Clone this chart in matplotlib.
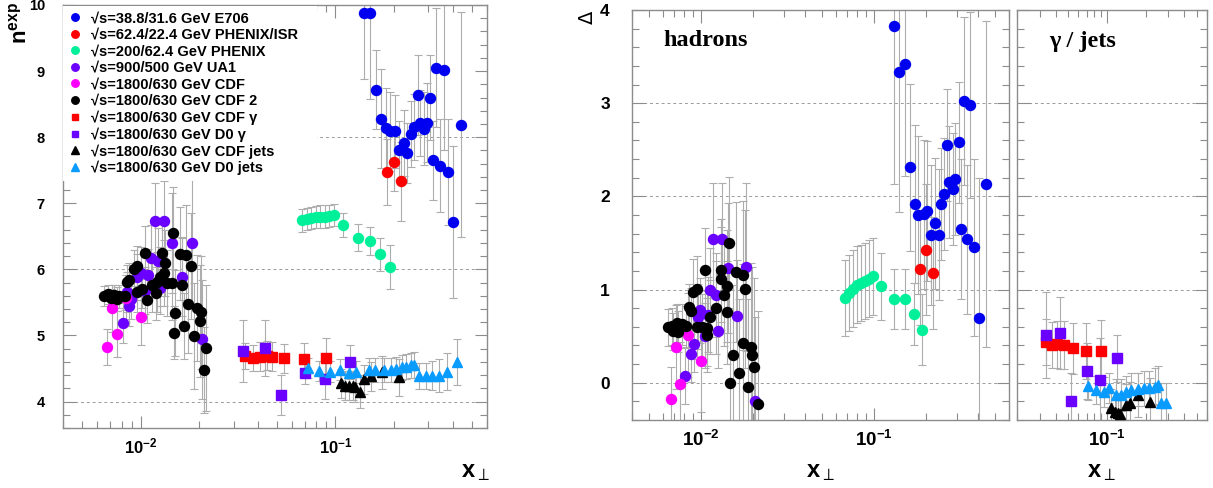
import matplotlib
matplotlib.use("Agg")
import matplotlib.pyplot as plt
from matplotlib.ticker import FixedLocator, LogLocator, MultipleLocator, NullFormatter, FixedFormatter

plt.rcParams['font.family'] = ['Liberation Sans', 'DejaVu Sans']
plt.rcParams['mathtext.fontset'] = 'custom'
plt.rcParams['mathtext.rm'] = 'Liberation Sans'
plt.rcParams['mathtext.bf'] = 'Liberation Sans:bold'
plt.rcParams['mathtext.it'] = 'Liberation Sans:italic'

# ---------------- colours / labels ----------------
series_labels = ["\u221as=38.8/31.6 GeV E706", "\u221as=62.4/22.4 GeV PHENIX/ISR",
                 "\u221as=200/62.4 GeV PHENIX", "\u221as=900/500 GeV UA1",
                 "\u221as=1800/630 GeV CDF", "\u221as=1800/630 GeV CDF 2",
                 "\u221as=1800/630 GeV CDF \u03b3", "\u221as=1800/630 GeV D0 \u03b3",
                 "\u221as=1800/630 GeV CDF jets", "\u221as=1800/630 GeV D0 jets"]
series_colors = ['#0000f0', '#ff0000', '#00f09a', '#6a00ff', '#ff00ff', '#000000',
                 '#ff0000', '#6a00ff', '#000000', '#0a9bff']
series_markers = ['o', 'o', 'o', 'o', 'o', 'o', 's', 's', '^', '^']

# ---------------- left panel: n_exp ----------------
e706_x = [0.1396, 0.151, 0.162, 0.171, 0.182, 0.191, 0.203, 0.212, 0.224, 0.233, 0.243, 0.254,
          0.264, 0.271, 0.284, 0.295, 0.307, 0.317, 0.330, 0.345, 0.359, 0.377, 0.402, 0.443]
e706_n = [9.88, 9.88, 8.72, 8.28, 8.14, 8.09, 8.09, 7.80, 7.91, 7.76, 8.05, 8.15,
          8.64, 8.21, 8.13, 8.22, 8.60, 7.65, 9.05, 7.57, 9.01, 7.47, 6.71, 8.19]
e706_ne = [1.0, 1.3, 0.6, 0.75, 0.6, 0.6, 0.55, 0.45, 0.5, 0.45, 0.5, 0.5,
           0.6, 0.5, 0.55, 0.6, 0.65, 0.6, 0.9, 0.7, 1.2, 0.8, 1.15, 1.7]

isr_x = [0.184, 0.201, 0.217]
isr_n = [7.47, 7.63, 7.33]
isr_ne = [0.5, 0.45, 0.6]

phenix_x = [0.0675, 0.0712, 0.0751, 0.0792, 0.0835, 0.0881, 0.0929, 0.098, 0.109, 0.130, 0.150, 0.170, 0.190]
phenix_n = [6.74, 6.76, 6.78, 6.79, 6.80, 6.80, 6.81, 6.82, 6.67, 6.48, 6.43, 6.23, 6.04]
phenix_ne = [0.17, 0.17, 0.17, 0.17, 0.17, 0.17, 0.17, 0.17, 0.18, 0.2, 0.21, 0.25, 0.33]

ua1_x = [0.01184, 0.01316, 0.01455, 0.01828, 0.01125, 0.01227, 0.00962, 0.01008, 0.01090,
         0.01637, 0.01266, 0.01048, 0.00855, 0.00889, 0.00871, 0.00809, 0.02056]
ua1_n = [6.73, 6.73, 6.40, 6.40, 6.17, 6.13, 5.88, 5.94, 5.91, 5.89, 5.72, 5.68, 5.66, 5.55,
         5.45, 5.19, 4.94]
ua1_ne = [0.58, 0.6, 0.75, 0.95, 0.5, 0.5, 0.35, 0.4, 0.4, 0.6, 0.4, 0.35, 0.3, 0.3, 0.3, 0.3, 0.9]

cdf_x = [0.00669, 0.0076, 0.0071, 0.00838, 0.0100]
cdf_n = [4.83, 5.02, 5.41, 5.56, 5.28]
cdf_ne = [0.27, 0.35, 0.35, 0.35, 0.42]

cdf2_x = [0.01466, 0.01052, 0.01343, 0.01283, 0.01585, 0.01715, 0.01805, 0.00954, 0.00924,
          0.00871, 0.00848, 0.01318, 0.01256, 0.01371, 0.01455, 0.01218, 0.01148, 0.01194,
          0.01020, 0.00962, 0.01082, 0.00648, 0.00683, 0.00730, 0.00774, 0.00831, 0.00702,
          0.00760, 0.0151, 0.01637, 0.01757, 0.01954, 0.02032, 0.02015, 0.01483, 0.01668,
          0.01876, 0.02173, 0.02129]
cdf2_n = [6.55, 6.25, 6.09, 6.25, 6.24, 6.22, 6.05, 6.05, 6.00, 5.84, 5.81, 5.94, 5.89, 5.80,
          5.79, 5.81, 5.76, 5.64, 5.71, 5.66, 5.54, 5.60, 5.62, 5.61, 5.59, 5.59, 5.56, 5.55,
          5.34, 5.77, 5.48, 5.42, 5.35, 5.22, 5.04, 5.14, 4.99, 4.81, 4.48]
cdf2_ne = [0.7, 0.4, 0.5, 0.5, 0.7, 0.75, 0.8, 0.3, 0.3, 0.25, 0.25, 0.5, 0.45, 0.5, 0.55,
           0.45, 0.4, 0.4, 0.3, 0.3, 0.35, 0.15, 0.15, 0.15, 0.18, 0.2, 0.15, 0.18,
           0.65, 0.7, 0.75, 0.8, 0.85, 0.85, 0.4, 0.5, 0.8, 0.95, 0.65]

cdfg_x = [0.0345, 0.0378, 0.0412, 0.0446, 0.0473, 0.0547, 0.0693, 0.0899]
cdfg_n = [4.69, 4.66, 4.68, 4.69, 4.68, 4.655, 4.645, 4.665]
cdfg_ne = [0.2, 0.2, 0.22, 0.22, 0.22, 0.22, 0.24, 0.3]

d0g_x = [0.0337, 0.0433, 0.0527, 0.0702, 0.0889, 0.1194]
d0g_n = [4.77, 4.81, 4.10, 4.43, 4.34, 4.60]
d0g_ne = [0.47, 0.42, 0.3, 0.17, 0.3, 0.26]

cdfj_x = [0.107, 0.1116, 0.117, 0.1227, 0.1267, 0.1333, 0.141, 0.153, 0.174, 0.213]
cdfj_n = [4.28, 4.24, 4.24, 4.24, 4.22, 4.15, 4.34, 4.38, 4.44, 4.37]
cdfj_ne = [0.22, 0.22, 0.22, 0.22, 0.22, 0.25, 0.22, 0.22, 0.25, 0.28]

d0j_x = [0.0721, 0.0828, 0.0942, 0.105, 0.117, 0.128, 0.148, 0.160, 0.177, 0.193, 0.2056,
         0.220, 0.231, 0.244, 0.252, 0.269, 0.292, 0.315, 0.341, 0.374, 0.421]
d0j_n = [4.505, 4.46, 4.45, 4.48, 4.43, 4.45, 4.48, 4.48, 4.48, 4.48, 4.49, 4.52, 4.53,
         4.55, 4.55, 4.39, 4.39, 4.39, 4.39, 4.45, 4.60]
d0j_ne = [0.15, 0.15, 0.16, 0.16, 0.17, 0.17, 0.18, 0.18, 0.18, 0.18, 0.19, 0.19, 0.19,
          0.19, 0.2, 0.2, 0.2, 0.22, 0.25, 0.28, 0.35]

# ---------------- right panel: Delta, hadrons ----------------
e706_d_x = [0.1294, 0.1396, 0.151, 0.160, 0.171, 0.180, 0.1927, 0.2017, 0.2128, 0.2233, 0.2355,
            0.2439, 0.254, 0.263, 0.272, 0.285, 0.294, 0.307, 0.318, 0.331, 0.3433, 0.359,
            0.375, 0.401, 0.442]
e706_d = [3.83, 3.337, 3.416, 2.31, 1.916, 1.803, 1.81, 1.84, 1.589, 1.71, 1.589, 1.916,
          2.028, 2.55, 2.15, 2.077, 2.188, 2.58, 1.649, 3.027, 1.539, 2.98, 1.453, 0.696, 2.135]
e706_de = [1.7, 1.5, 1.2, 0.9, 0.85, 0.85, 0.8, 0.75, 0.75, 0.7, 0.7, 0.6, 0.6, 0.6, 0.6,
           0.6, 0.6, 0.65, 0.75, 0.9, 0.8, 1.0, 0.95, 1.5, 1.75]

isr_d_x = [0.200, 0.183, 0.2174]
isr_d = [1.428, 1.217, 1.178]
isr_de = [0.7, 0.6, 0.6]

phenix_d_x = [0.0675, 0.0712, 0.0751, 0.0792, 0.0835, 0.0881, 0.0929, 0.098, 0.109, 0.130, 0.150, 0.170, 0.190]
phenix_d = [0.91, 0.964, 1.01, 1.053, 1.071, 1.092, 1.118, 1.142, 1.035, 0.899, 0.899, 0.739, 0.567]
phenix_de = [0.41, 0.41, 0.41, 0.41, 0.41, 0.41, 0.41, 0.41, 0.36, 0.32, 0.32, 0.33, 0.38]

ua1_d_x = [0.01170, 0.01318, 0.01439, 0.01820, 0.01127, 0.01222, 0.00986, 0.01101, 0.00957,
           0.01622, 0.01259, 0.01055, 0.00914, 0.00875, 0.00809, 0.02051]
ua1_d = [1.546, 1.546, 1.231, 1.242, 1.0, 0.946, 0.778, 0.732, 0.707, 0.717, 0.553, 0.503,
         0.411, 0.304, 0.072, -0.196]
ua1_de = [0.6, 0.6, 0.7, 0.9, 0.45, 0.45, 0.35, 0.4, 0.35, 0.6, 0.4, 0.35, 0.3, 0.3, 0.3, 0.9]

cdf_d_x = [0.00669, 0.00757, 0.00715, 0.00838, 0.0100]
cdf_d = [-0.178, -0.017, 0.385, 0.51, 0.232]
cdf_de = [0.35, 0.45, 0.45, 0.45, 0.55]

cdf2_d_x = [0.01452, 0.01055, 0.01300, 0.01592, 0.01741, 0.01794, 0.01300, 0.01409, 0.00944,
            0.00902, 0.01364, 0.01216, 0.01409, 0.00855, 0.00875, 0.01127, 0.00647, 0.00685,
            0.00723, 0.00773, 0.00818, 0.00692, 0.00740, 0.00944, 0.01009, 0.01079, 0.01079,
            0.01755, 0.01936, 0.01981, 0.02024, 0.01538, 0.01663, 0.01472, 0.01875, 0.02143]
cdf2_d = [1.503, 1.207, 1.207, 1.188, 1.153, 1.003, 1.118, 1.035, 1.01, 0.974, 0.939, 0.803,
          0.754, 0.814, 0.77, 0.707, 0.593, 0.607, 0.642, 0.628, 0.607, 0.553, 0.546, 0.60,
          0.60, 0.582, 0.51, 0.428, 0.385, 0.297, 0.171, 0.297, 0.10, 0.0, -0.05, -0.228]
cdf2_de = [0.7, 0.45, 0.55, 0.75, 0.8, 0.85, 0.55, 0.6, 0.35, 0.35, 0.55, 0.5, 0.55, 0.25,
           0.25, 0.4, 0.2, 0.2, 0.2, 0.22, 0.22, 0.2, 0.22, 0.35, 0.35, 0.4, 0.4,
           0.85, 0.9, 0.95, 0.95, 0.75, 0.8, 0.75, 0.95, 1.0]

# ---------------- right panel: Delta, gamma / jets ----------------
cdfg_d_x = [0.0335, 0.0371, 0.0408, 0.046, 0.0541, 0.0688, 0.090]
cdfg_d = [0.439, 0.404, 0.411, 0.404, 0.368, 0.34, 0.34]
cdfg_de = [0.25, 0.25, 0.25, 0.26, 0.27, 0.3, 0.33]

d0g_d_x = [0.0335, 0.0431, 0.0525, 0.070, 0.089, 0.119]
d0g_d = [0.51, 0.535, -0.193, 0.128, 0.029, 0.261]
d0g_de = [0.46, 0.39, 0.3, 0.3, 0.45, 0.25]

cdfj_d_x = [0.1079, 0.1146, 0.1214, 0.1274, 0.1395, 0.150, 0.174, 0.215]
cdfj_d = [-0.268, -0.31, -0.328, -0.335, -0.239, -0.214, -0.132, -0.21]
cdfj_de = [0.2, 0.2, 0.2, 0.2, 0.22, 0.22, 0.24, 0.26]

d0j_d_x = [0.0708, 0.0824, 0.0944, 0.1046, 0.118, 0.129, 0.141, 0.1546, 0.174, 0.193, 0.212,
           0.235, 0.25, 0.265, 0.29]
d0j_d = [-0.035, -0.078, -0.096, -0.053, -0.132, -0.132, -0.096, -0.078, -0.071, -0.06,
         -0.06, -0.043, -0.025, -0.22, -0.22]
d0j_de = [0.15, 0.15, 0.16, 0.16, 0.17, 0.17, 0.17, 0.18, 0.18, 0.19, 0.19, 0.2, 0.2, 0.22, 0.22]

# ---------------- figure ----------------
W, H = 1213, 488
fig = plt.figure(figsize=(W / 100, H / 100), dpi=100)


def add_axes_px(l, r, t, b):
    return fig.add_axes([l / W, 1 - b / H, (r - l) / W, (b - t) / H])


ax1 = add_axes_px(63, 487, 5, 428)
ax2 = add_axes_px(632, 1009, 10, 420)
ax3 = add_axes_px(1017, 1207, 10, 420)

ERR_C = '#adadad'
MS = {'o': 7.2, 's': 6.6, '^': 7.4}


def draw(ax, x, y, e, idx):
    ax.errorbar(x, y, yerr=e, fmt='none', ecolor=ERR_C, elinewidth=0.8, capsize=3.2,
                capthick=0.8, zorder=2)
    m = series_markers[idx]
    line, = ax.plot(x, y, linestyle='none', marker=m, ms=MS[m], color=series_colors[idx],
                    mec=series_colors[idx], zorder=3, label=series_labels[idx])
    return line


left_sets = [(e706_x, e706_n, e706_ne, 0), (isr_x, isr_n, isr_ne, 1),
             (phenix_x, phenix_n, phenix_ne, 2), (ua1_x, ua1_n, ua1_ne, 3),
             (cdf_x, cdf_n, cdf_ne, 4), (cdf2_x, cdf2_n, cdf2_ne, 5),
             (cdfg_x, cdfg_n, cdfg_ne, 6), (d0g_x, d0g_n, d0g_ne, 7),
             (cdfj_x, cdfj_n, cdfj_ne, 8), (d0j_x, d0j_n, d0j_ne, 9)]
handles = []
for x, y, e, i in left_sets:
    handles.append(draw(ax1, x, y, e, i))

had_sets = [(e706_d_x, e706_d, e706_de, 0), (isr_d_x, isr_d, isr_de, 1),
            (phenix_d_x, phenix_d, phenix_de, 2), (ua1_d_x, ua1_d, ua1_de, 3),
            (cdf_d_x, cdf_d, cdf_de, 4), (cdf2_d_x, cdf2_d, cdf2_de, 5)]
for x, y, e, i in had_sets:
    draw(ax2, x, y, e, i)

gj_sets = [(cdfg_d_x, cdfg_d, cdfg_de, 6), (d0g_d_x, d0g_d, d0g_de, 7),
           (cdfj_d_x, cdfj_d, cdfj_de, 8), (d0j_d_x, d0j_d, d0j_de, 9)]
for x, y, e, i in gj_sets:
    draw(ax3, x, y, e, i)

# ---------------- axes styling ----------------
FRAME_C = '#8c8c8c'
GRID_C = '#9a9a9a'


def style(ax, xlim, ylim, ymaj, ylabels, yfs):
    ax.set_xscale('log')
    ax.set_xlim(*xlim)
    ax.set_ylim(*ylim)
    for s in ax.spines.values():
        s.set_color(FRAME_C)
        s.set_linewidth(1.0)
    ax.xaxis.set_major_locator(FixedLocator([0.01, 0.1]))
    ax.xaxis.set_minor_locator(LogLocator(base=10, subs=[2, 3, 4, 5, 6, 7, 8, 9], numticks=20))
    ax.xaxis.set_minor_formatter(NullFormatter())
    ax.yaxis.set_major_locator(FixedLocator(ymaj))
    ax.yaxis.set_minor_locator(MultipleLocator(0.2))
    if ylabels:
        ax.yaxis.set_major_formatter(FixedFormatter([str(v) for v in ymaj]))
    else:
        ax.yaxis.set_major_formatter(NullFormatter())
    ax.tick_params(which='both', direction='in', top=True, right=True, color=FRAME_C, width=0.8)
    ax.tick_params(which='major', length=9)
    ax.tick_params(which='minor', length=5)
    ax.tick_params(axis='y', which='major', labelsize=yfs, pad=13 if yfs < 12 else 16)
    for lab in ax.get_yticklabels():
        lab.set_fontweight('bold')


style(ax1, (0.004, 0.6), (3.6, 10.0), [4, 5, 6, 7, 8, 9, 10], True, 10.5)
style(ax2, (0.004, 0.6), (-0.4, 4.0), [0, 1, 2, 3, 4], True, 12.5)
style(ax3, (0.02, 0.6), (-0.4, 4.0), [0, 1, 2, 3, 4], False, 12.5)

ax1.set_xticklabels([r'$\mathbf{10^{-2}}$', r'$\mathbf{10^{-1}}$'])
ax1.tick_params(axis='x', which='major', labelsize=12, pad=6)
ax2.set_xticklabels([r'$\mathbf{10^{-2}}$', r'$\mathbf{10^{-1}}$'])
ax2.tick_params(axis='x', which='major', labelsize=13.5, pad=7)
ax3.xaxis.set_major_locator(FixedLocator([0.1]))
ax3.set_xticklabels([r'$\mathbf{10^{-1}}$'])
ax3.tick_params(axis='x', which='major', labelsize=13.5, pad=7)

for v in [4, 6, 8]:
    ax1.axhline(v, color=GRID_C, lw=0.7, ls=(0, (3, 3)), zorder=1)
for ax in (ax2, ax3):
    for v in [0, 1, 2, 3]:
        ax.axhline(v, color=GRID_C, lw=0.7, ls=(0, (3, 3)), zorder=1)

leg = ax1.legend(handles=handles, loc='upper left', bbox_to_anchor=(0.0, 0.997, 0.6, 0.0),
                 mode='expand', frameon=True, fancybox=False, edgecolor='none',
                 facecolor='white', framealpha=1.0, borderaxespad=0.0, borderpad=0.35,
                 labelspacing=0.17, handlelength=0.9, handletextpad=0.7, markerscale=0.75,
                 prop={'weight': 'bold', 'size': 10.5})
leg.set_zorder(5)

# ---------------- text ----------------
def ftext(xp, yp, s, **kw):
    return fig.text(xp / W, 1 - yp / H, s, **kw)


ftext(20, 2, r'$\mathbf{n^{exp}}$', rotation=90, ha='center', va='top', fontsize=16)
ftext(587, 17, '\u0394', rotation=90, ha='center', va='center', fontsize=14,
      family=['DejaVu Sans'])
ftext(663, 40, 'hadrons', ha='left', va='center', fontsize=17.5, fontweight='bold',
      family=['Liberation Serif', 'DejaVu Serif'])
ftext(1049, 41, '\u03b3 / jets', ha='left', va='center', fontsize=17.5, fontweight='bold',
      family=['Liberation Serif', 'DejaVu Serif'])

for xp in (475, 820, 1101):
    ftext(xp, 472, r'$\mathbf{x}_{\perp}$', ha='center', va='center', fontsize=17)

fig.savefig('out.png', dpi=100, facecolor='white')
